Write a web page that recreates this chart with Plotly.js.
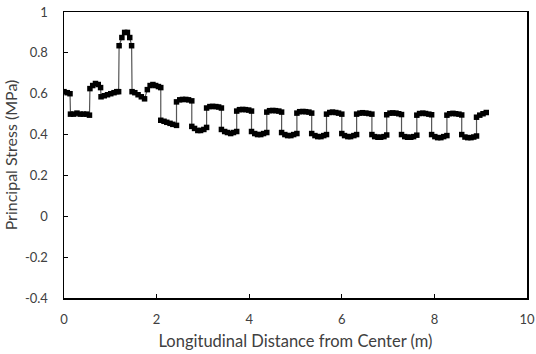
<!DOCTYPE html>
<html>
<head>
<meta charset="utf-8">
<script src="https://cdn.plot.ly/plotly-3.0.1.min.js"></script>
<style>html,body{margin:0;padding:0;background:#fff;}#chart{width:536px;height:354px;}</style>
</head>
<body>
<div id="chart"></div>
<script>
// Distance from center (m)
var distance = [
  0.00, 0.07, 0.13,
  0.14, 0.21, 0.28, 0.35, 0.42, 0.49, 0.55,
  0.56, 0.62, 0.68, 0.74, 0.79,
  0.80, 0.87, 0.94, 1.01, 1.08, 1.14, 1.18,
  1.19, 1.25, 1.31, 1.37, 1.42, 1.46,
  1.47, 1.53, 1.60, 1.67, 1.74, 1.80, 1.86, 1.92, 1.98, 2.04, 2.09,
  2.09, 2.16, 2.22, 2.29, 2.35, 2.43,
  2.43, 2.50, 2.56, 2.63, 2.69, 2.76,
  2.76, 2.82, 2.89, 2.95, 3.02, 3.08,
  3.08, 3.15, 3.21, 3.28, 3.34, 3.40,
  3.40, 3.47, 3.53, 3.60, 3.66, 3.73,
  3.73, 3.79, 3.86, 3.92, 3.99, 4.05,
  4.05, 4.12, 4.18, 4.25, 4.31, 4.38,
  4.38, 4.44, 4.51, 4.57, 4.64, 4.70,
  4.70, 4.77, 4.83, 4.90, 4.96, 5.03,
  5.03, 5.09, 5.16, 5.22, 5.29, 5.35,
  5.35, 5.42, 5.48, 5.55, 5.61, 5.67,
  5.67, 5.74, 5.80, 5.87, 5.93, 6.00,
  6.00, 6.06, 6.13, 6.19, 6.26, 6.32,
  6.32, 6.39, 6.45, 6.52, 6.58, 6.65,
  6.65, 6.71, 6.78, 6.84, 6.91, 6.97,
  6.97, 7.04, 7.10, 7.17, 7.23, 7.29,
  7.29, 7.36, 7.42, 7.49, 7.55, 7.62,
  7.62, 7.68, 7.75, 7.81, 7.88, 7.94,
  7.94, 8.01, 8.07, 8.14, 8.20, 8.27,
  8.27, 8.33, 8.40, 8.46, 8.53, 8.59,
  8.59, 8.66, 8.72, 8.79, 8.85, 8.91,
  8.91, 8.98, 9.05, 9.12
];
// Principal stress (MPa)
var stress = [
  0.610, 0.605, 0.600,
  0.500, 0.500, 0.505, 0.500, 0.500, 0.500, 0.495,
  0.625, 0.640, 0.650, 0.645, 0.630,
  0.585, 0.590, 0.595, 0.600, 0.605, 0.610, 0.610,
  0.835, 0.875, 0.900, 0.900, 0.875, 0.835,
  0.610, 0.605, 0.595, 0.585, 0.575, 0.620, 0.640, 0.645, 0.640, 0.635, 0.630,
  0.470, 0.465, 0.460, 0.455, 0.450, 0.445,
  0.560, 0.570, 0.572, 0.572, 0.570, 0.565,
  0.440, 0.430, 0.420, 0.420, 0.425, 0.435,
  0.530, 0.537, 0.538, 0.537, 0.535, 0.530,
  0.425, 0.415, 0.410, 0.405, 0.410, 0.415,
  0.515, 0.522, 0.523, 0.522, 0.520, 0.515,
  0.415, 0.405, 0.400, 0.400, 0.405, 0.410,
  0.510, 0.517, 0.518, 0.517, 0.515, 0.510,
  0.410, 0.400, 0.395, 0.395, 0.400, 0.405,
  0.505, 0.512, 0.513, 0.512, 0.510, 0.505,
  0.405, 0.395, 0.390, 0.390, 0.395, 0.400,
  0.500, 0.508, 0.510, 0.508, 0.505, 0.500,
  0.405, 0.395, 0.390, 0.390, 0.395, 0.400,
  0.500, 0.505, 0.507, 0.505, 0.503, 0.500,
  0.400, 0.390, 0.387, 0.387, 0.390, 0.398,
  0.497, 0.505, 0.506, 0.505, 0.502, 0.498,
  0.400, 0.390, 0.387, 0.387, 0.390, 0.397,
  0.495, 0.503, 0.505, 0.503, 0.500, 0.497,
  0.400, 0.390, 0.385, 0.385, 0.390, 0.395,
  0.495, 0.502, 0.504, 0.502, 0.500, 0.496,
  0.400, 0.388, 0.385, 0.385, 0.388, 0.393,
  0.485, 0.495, 0.502, 0.508
];
var xTickVals = [0, 2, 4, 6, 8, 10];
var xTickText = ["0", "2", "4", "6", "8", "10"];
var yTickVals = [-0.4, -0.2, 0, 0.2, 0.4, 0.6, 0.8, 1];
var yTickText = ["-0.4", "-0.2", "0", "0.2", "0.4", "0.6", "0.8", "1"];

var font = "Lato, 'Open Sans', sans-serif";
var textColor = "#404040";

Plotly.newPlot("chart", [{
  x: distance,
  y: stress,
  type: "scatter",
  mode: "lines+markers",
  line: {color: "#555555", width: 1.2},
  marker: {symbol: "square", size: 5.5, color: "#000000"},
  hoverinfo: "x+y"
}], {
  width: 536,
  height: 354,
  margin: {l: 64, r: 9, t: 12, b: 56},
  paper_bgcolor: "#ffffff",
  plot_bgcolor: "#ffffff",
  showlegend: false,
  font: {family: font, color: textColor, size: 13},
  xaxis: {
    range: [0, 10],
    tickvals: xTickVals,
    ticktext: xTickText,
    ticks: "inside",
    ticklen: 4,
    tickcolor: "#000000",
    showgrid: false,
    zeroline: false,
    showline: true,
    mirror: true,
    linecolor: "#000000",
    linewidth: 1.5,
    ticklabelstandoff: 9,
    tickfont: {family: font, size: 13, color: textColor},
    title: {text: "Longitudinal Distance from Center (m)", font: {family: font, size: 16.5, color: textColor}, standoff: 9}
  },
  yaxis: {
    range: [-0.4, 1],
    tickvals: yTickVals,
    ticktext: yTickText,
    ticks: "inside",
    ticklen: 4,
    tickcolor: "#000000",
    showgrid: false,
    zeroline: false,
    showline: true,
    mirror: true,
    linecolor: "#000000",
    linewidth: 1.5,
    ticklabelstandoff: 12,
    tickfont: {family: font, size: 13, color: textColor},
    title: {text: "Principal Stress (MPa)", font: {family: font, size: 16, color: textColor}, standoff: 3}
  }
}, {displayModeBar: false, staticPlot: true});
</script>
</body>
</html>
